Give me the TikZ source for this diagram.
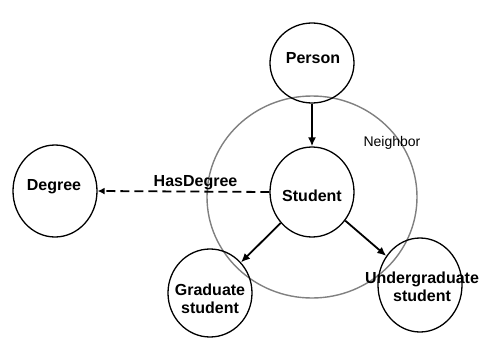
\documentclass[tikz,border=0pt]{standalone}
\usepackage{fontspec}
\setmainfont{Liberation Sans}
\usetikzlibrary{shapes.geometric,arrows.meta}
\begin{document}
\begin{tikzpicture}[x=1pt,y=-1pt,
  concept/.style={ellipse,draw,line width=1.3pt,inner sep=0pt,minimum width=84pt,minimum height=90pt},
  conceptname/.style={font=\fontsize{16}{18}\selectfont\bfseries,align=center,inner sep=0pt},
  isa/.style={line width=1.8pt,-{Latex[length=9pt,width=8pt]}}]
\useasboundingbox (0,0) rectangle (487,343);
% neighbourhood of Student
\draw[line width=1.4pt,gray] (312,197) ellipse [x radius=105pt,y radius=101pt];
\node[font=\fontsize{14}{16}\selectfont] (neighbor) at (392,143) {Neighbor};
% classes
\node[concept,minimum height=80pt] (person) at (312,63) {};
\node[concept] (student) at (312,192) {};
\node[concept,minimum height=92pt] (degree) at (55,191) {};
\node[concept,minimum height=88pt] (grad) at (210,293) {};
\node[concept,minimum height=94pt] (ugrad) at (420,285) {};
\node[conceptname] (personlbl) at (313,58) {Person};
\node[conceptname] (studentlbl) at (312,196) {Student};
\node[conceptname] (degreelbl) at (54,187) {Degree};
\node[conceptname] (gradlbl) at (210,299) {Graduate\\student};
\node[conceptname] (ugradlbl) at (422,287) {Undergraduate\\student};
% relations
\draw[isa] (person) -- (student);
\draw[isa] (student) -- (grad);
\draw[isa] (student) -- (ugrad);
\draw[line width=1.8pt,dash pattern=on 9pt off 5pt,-{Latex[length=7pt,width=7pt]}] (student.west) -- (degree.east)
  node[pos=0.43,anchor=base,yshift=5pt,font=\fontsize{16}{18}\selectfont\bfseries,inner sep=0pt] (hasdegree) {HasDegree};
\end{tikzpicture}
\end{document}
